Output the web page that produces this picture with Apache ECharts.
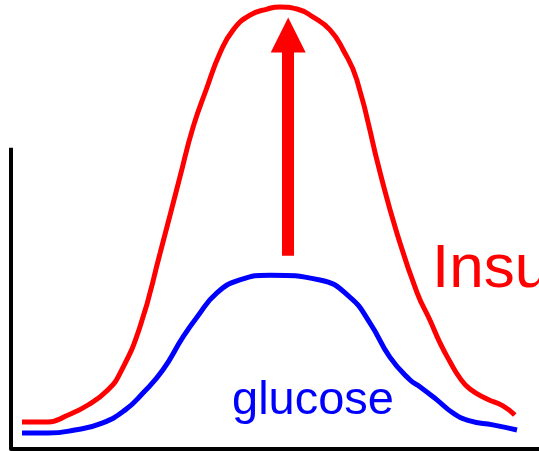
<!DOCTYPE html>
<html>
<head>
<meta charset="utf-8">
<script src="https://cdn.jsdelivr.net/npm/echarts@6/dist/echarts.min.js"></script>
<style>
  html, body { margin: 0; padding: 0; background: #fff; }
  #chart { width: 539px; height: 451px; }
</style>
</head>
<body>
<div id="chart"></div>
<script>
// time after a meal (arbitrary minutes) and levels (arbitrary units)
var insulinX = [2.5, 8.4, 13.0, 17.5, 22.0, 24.8, 29.3, 33.9, 38.4, 41.4, 44.5, 47.5, 50.5, 54.3, 58.2, 61.1, 65.0, 68.6, 72.5, 75.5, 78.6, 83.9, 87.7, 92.3, 95.2, 97.5, 99.8, 102.0, 104.3, 108.2, 111.8, 114.5];
var insulinY = [9.0, 9.0, 11.3, 14.6, 19.6, 25.2, 40.5, 65.1, 90.3, 106.9, 119.8, 131.4, 139.1, 144.0, 146.0, 146.7, 146.0, 143.4, 139.1, 132.4, 122.5, 91.6, 71.7, 51.8, 42.8, 35.2, 28.9, 23.6, 19.9, 16.6, 14.3, 11.3];

var glucoseX = [2.5, 8.4, 14.5, 20.7, 25.9, 30.0, 34.5, 39.1, 42.3, 46.8, 52.0, 58.9, 70.2, 77.0, 81.6, 86.1, 90.7, 93.0, 96.8, 100.5, 104.3, 109.5, 115.0];
var glucoseY = [5.3, 5.3, 6.3, 8.6, 12.9, 18.6, 26.2, 37.2, 43.8, 51.8, 56.1, 57.7, 56.1, 50.4, 41.8, 30.5, 22.9, 20.6, 16.3, 11.9, 9.3, 8.0, 6.3];

// arrow: insulin goes up
var arrowX = 63;
var arrowFrom = 64.1;
var arrowTo = 137.4;

// the drawn vertical axis only reaches this level
var yAxisTop = 100;

function pairs(xs, ys) {
  var out = [];
  for (var i = 0; i < xs.length; i++) out.push([xs[i], ys[i]]);
  return out;
}

var chart = echarts.init(document.getElementById('chart'));

var option = {
  animation: false,
  backgroundColor: '#fff',
  grid: {
    left: 11,
    right: 0,
    top: 0,
    bottom: 2
  },
  xAxis: {
    type: 'value',
    min: 0,
    max: 120,
    axisLine: { show: true, lineStyle: { color: '#000', width: 4 } },
    axisTick: { show: false },
    axisLabel: { show: false },
    splitLine: { show: false }
  },
  yAxis: {
    type: 'value',
    min: 0,
    max: 149,
    axisLine: { show: false },
    axisTick: { show: false },
    axisLabel: { show: false },
    splitLine: { show: false }
  },
  series: [
    {
      name: 'Insulin',
      type: 'line',
      data: pairs(insulinX, insulinY),
      smooth: 0.5,
      symbol: 'none',
      clip: false,
      lineStyle: { color: '#ff0000', width: 5 },
      markLine: {
        silent: true,
        symbol: ['none', 'triangle'],
        symbolSize: [35, 35],
        label: { show: false },
        lineStyle: { color: '#ff0000', width: 12, type: 'solid' },
        data: [[{ coord: [arrowX, arrowFrom] }, { coord: [arrowX, arrowTo] }]]
      }
    },
    {
      name: 'glucose',
      type: 'line',
      data: pairs(glucoseX, glucoseY),
      smooth: 0.5,
      symbol: 'none',
      clip: false,
      lineStyle: { color: '#0000ff', width: 5 },
      markLine: {
        silent: true,
        symbol: ['none', 'none'],
        label: { show: false },
        lineStyle: { color: '#000', width: 4, type: 'solid' },
        data: [[{ coord: [0, 0] }, { coord: [0, yAxisTop] }]]
      }
    }
  ],
  graphic: [
    {
      type: 'text',
      x: 432,
      y: 239,
      style: {
        text: 'Insulin',
        fill: '#ff0000',
        font: '62px "Liberation Sans", Arial, sans-serif'
      }
    },
    {
      type: 'text',
      x: 232,
      y: 378,
      style: {
        text: 'glucose',
        fill: '#0000ff',
        font: '47px "Liberation Sans", Arial, sans-serif'
      }
    }
  ]
};

chart.setOption(option);
</script>
</body>
</html>
